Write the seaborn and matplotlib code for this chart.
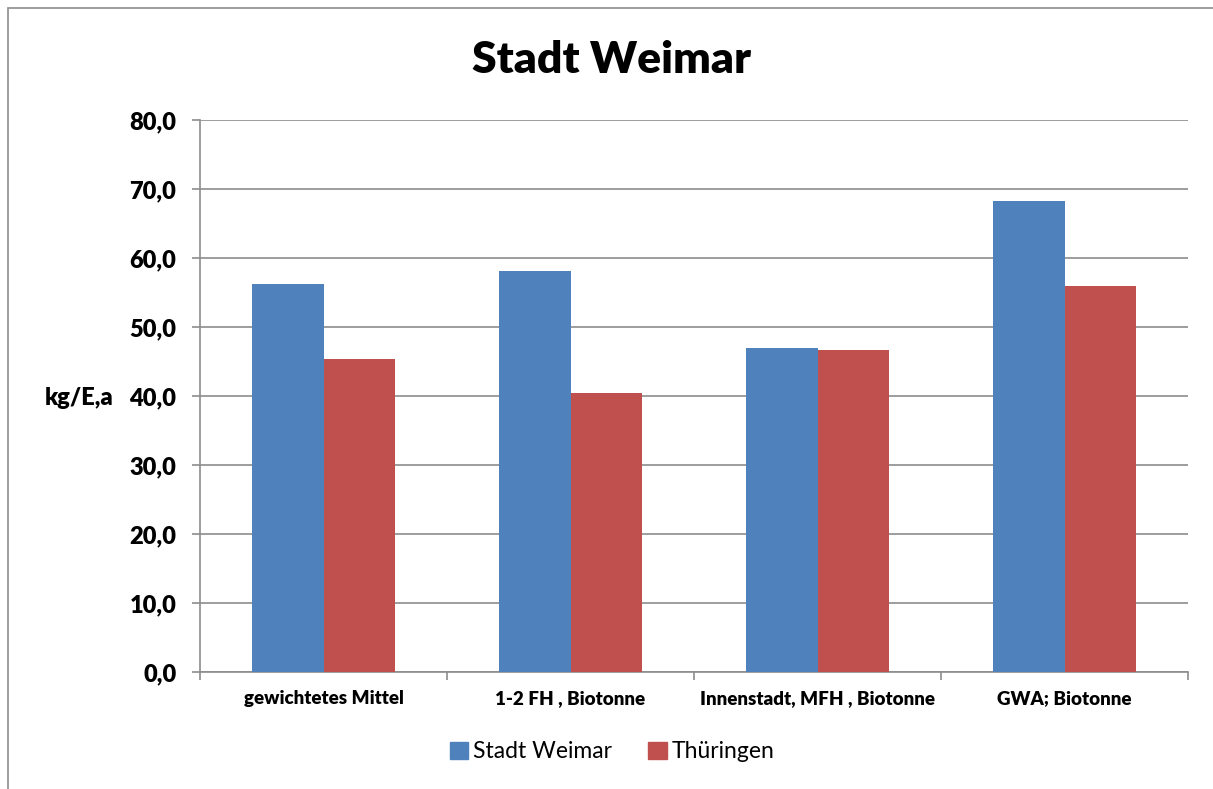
import pandas as pd
import matplotlib
matplotlib.use("Agg")
import matplotlib.pyplot as plt
import seaborn as sns
from matplotlib.patches import Rectangle

categories = ["gewichtetes Mittel", "1-2 FH , Biotonne", "Innenstadt, MFH , Biotonne", "GWA; Biotonne"]
weimar = [56.3, 58.1, 47.0, 68.2]
thueringen = [45.3, 40.4, 46.6, 56.0]
series = ["Stadt Weimar", "Thüringen"]
colors = ["#4F81BD", "#C0504D"]

df = pd.DataFrame({
    "Kategorie": categories * 2,
    "Wert": weimar + thueringen,
    "Reihe": [series[0]] * 4 + [series[1]] * 4,
})

sns.set_theme(style="white")
plt.rcParams["font.family"] = ["Lato", "DejaVu Sans"]
plt.rcParams["text.color"] = "black"
plt.rcParams["xtick.color"] = "black"
plt.rcParams["ytick.color"] = "black"
plt.rcParams["axes.labelcolor"] = "black"

fig = plt.figure(figsize=(12.13, 7.89), dpi=100)
ax = fig.add_axes([200 / 1213, 1 - 672 / 789, 988 / 1213, 552 / 789])

sns.barplot(data=df, x="Kategorie", y="Wert", hue="Reihe", palette=colors,
            width=0.575, saturation=1, ax=ax, zorder=3)
for p in ax.patches:
    p.set_linewidth(0)

ax.set_ylim(0, 80)
ax.set_xlim(-0.5, 3.5)
ax.set_yticks(range(0, 81, 10))
ax.set_yticklabels([f"{v},0" for v in range(0, 81, 10)], fontsize=17, fontweight="heavy")
ax.grid(axis="y", color="#8c8c8c", linewidth=1.2, zorder=0)
ax.set_axisbelow(True)

# ticks on category boundaries
ax.set_xticks([-0.5, 0.5, 1.5, 2.5, 3.5])
ax.set_xticklabels([])
ax.set_xticks(range(4), minor=True)
ax.set_xticklabels(categories, minor=True, fontsize=13.5, fontweight="heavy")
ax.tick_params(axis="x", which="minor", length=0, pad=13)
ax.tick_params(axis="x", which="major", length=6, color="#8c8c8c", width=1.2, direction="out")
ax.tick_params(axis="y", length=6, color="#8c8c8c", width=1.2, direction="out", pad=11, left=True)
ax.tick_params(axis="x", bottom=True, which="both")

for s in ["top", "right"]:
    ax.spines[s].set_visible(False)
for s in ["left", "bottom"]:
    ax.spines[s].set_color("#8c8c8c")
    ax.spines[s].set_linewidth(1.2)

ax.set_xlabel("")
ax.set_ylabel("kg/E,a", rotation=0, fontsize=17, fontweight="heavy", ha="center", va="center")
ax.yaxis.set_label_coords(-0.1225, 0.497)

ax.legend_.remove()
handles = [Rectangle((0, 0), 1, 1, color=c) for c in colors]
fig.legend(handles, series, loc="center", bbox_to_anchor=(612 / 1213, 1 - 752 / 789),
           ncol=2, frameon=False, fontsize=16.5, handlelength=0.8, handleheight=0.8,
           handletextpad=0.2, columnspacing=1.6)

fig.text(611 / 1213, 1 - 60 / 789, "Stadt Weimar", ha="center", va="center",
         fontsize=32, fontweight="heavy")

fig.patches.append(Rectangle((8 / 1213, -0.01), 1.1, 1 - 8 / 789 + 0.01,
                             transform=fig.transFigure, fill=False,
                             edgecolor="#8c8c8c", linewidth=1.2))

fig.savefig("out.png", dpi=100)
